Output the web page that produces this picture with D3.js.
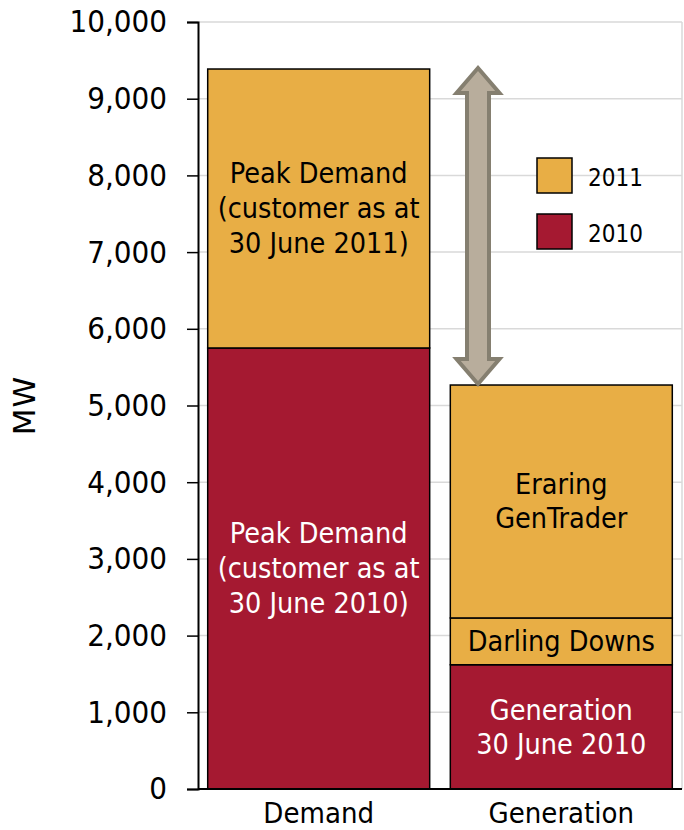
<!DOCTYPE html>
<html><head><meta charset="utf-8">
<script src="https://cdn.jsdelivr.net/npm/d3@7"></script>
<style>body{margin:0;background:#fff}text{font-family:"DejaVu Sans Condensed","DejaVu Sans",sans-serif}</style>
</head><body><svg id="c" width="684" height="830"></svg>
<script>
const categories = ["Demand", "Generation"];
const series2010 = [5750, 1620];
const seriesDarling = [0, 610];
const series2011 = [3637, 3037];
const yTicks = [0,1000,2000,3000,4000,5000,6000,7000,8000,9000,10000];
const legendLabels = ["2011", "2010"];

(function(){
const colors = {y2011:"#e8ae45", y2010:"#a51931"};
const FF = '"DejaVu Sans Condensed","DejaVu Sans",sans-serif';
const svg = d3.select("#c");
const m = {l:198, r:682, t:22, b:789};
const x = d3.scaleBand().domain(categories).range([m.l, m.r]).paddingInner(0.085).paddingOuter(0.04);
const y = d3.scaleLinear().domain([0,10000]).range([m.b, m.t]);

// gridlines
svg.append("g").selectAll("line").data(yTicks.slice(1)).join("line")
  .attr("x1", m.l).attr("x2", m.r).attr("y1", d=>y(d)).attr("y2", d=>y(d))
  .attr("stroke", "#d9d9d9").attr("stroke-width", 1.5);
svg.append("line").attr("x1", m.r).attr("x2", m.r).attr("y1", m.t).attr("y2", m.b).attr("stroke","#d9d9d9").attr("stroke-width",1.5);

// stacks
const segs = [];
categories.forEach((c,i)=>{
  let base = 0;
  segs.push({c, y0:base, y1:base+series2010[i], col:colors.y2010}); base += series2010[i];
  if (seriesDarling[i]) { segs.push({c, y0:base, y1:base+seriesDarling[i], col:colors.y2011}); base += seriesDarling[i]; }
  segs.push({c, y0:base, y1:base+series2011[i], col:colors.y2011});
});
svg.append("g").selectAll("rect").data(segs).join("rect")
  .attr("x", d=>x(d.c)).attr("width", x.bandwidth())
  .attr("y", d=>y(d.y1)).attr("height", d=>y(d.y0)-y(d.y1))
  .attr("fill", d=>d.col).attr("stroke", "#000").attr("stroke-width", 1.5);

// axes
const ya = d3.axisLeft(y).tickValues(yTicks).tickSize(11).tickPadding(20).tickFormat(d3.format(","));
const gy = svg.append("g").attr("transform", `translate(${m.l},0)`).call(ya);
gy.select(".domain").attr("stroke","#000").attr("stroke-width",2);
gy.selectAll(".tick line").attr("stroke","#000").attr("stroke-width",1.5);
gy.selectAll(".tick text").attr("font-size", 31).attr("fill","#000").style("font-family", FF);
const xa = d3.axisBottom(x).tickSize(0).tickPadding(13);
const gx = svg.append("g").attr("transform", `translate(0,${m.b})`).call(xa);
gx.select(".domain").attr("stroke","#000").attr("stroke-width",2).attr("d", `M${m.l},0H${m.r}`);
gx.selectAll(".tick text").attr("font-size", 29).attr("fill","#000").style("font-family", FF);

svg.append("text").attr("transform", `translate(24,${(m.t+m.b)/2}) rotate(-90)`)
  .attr("text-anchor","middle").attr("dy","0.35em").attr("font-size", 31)
  .style("font-family",'"DejaVu Sans",sans-serif').attr("letter-spacing",1).text("MW");

// bar labels
function label(cat, v, lines, col, lh){
  const cx = x(cat) + x.bandwidth()/2;
  const cy = y(v);
  const t = svg.append("text").attr("text-anchor","middle").attr("font-size", 28.5).attr("fill", col);
  lines.forEach((s,k)=>{
    t.append("tspan").attr("x", cx).attr("y", cy + (k-(lines.length-1)/2)*lh).attr("dy","0.35em").text(s);
  });
}
label("Demand", series2010[0] + series2011[0]/2, ["Peak Demand","(customer as at","30 June 2011)"], "#000", 35);
label("Demand", series2010[0]/2, ["Peak Demand","(customer as at","30 June 2010)"], "#fff", 35);
label("Generation", series2010[1]+seriesDarling[1]+series2011[1]/2, ["Eraring","GenTrader"], "#000", 34);
label("Generation", series2010[1]+seriesDarling[1]/2, ["Darling Downs"], "#000", 34);
label("Generation", series2010[1]/2, ["Generation","30 June 2010"], "#fff", 34);

// arrow
const topV = series2010[0]+series2011[0];
const botV = series2010[1]+seriesDarling[1]+series2011[1];
const ax = 478, hw = 11, hh = 21.5, hl = 25;
const yt = y(topV) - 1, yb = y(botV) - 1;
const p = [[ax,yt],[ax+hh,yt+hl],[ax+hw,yt+hl],[ax+hw,yb-hl],[ax+hh,yb-hl],[ax,yb],[ax-hh,yb-hl],[ax-hw,yb-hl],[ax-hw,yt+hl],[ax-hh,yt+hl]];
svg.append("path").attr("d", "M"+p.map(q=>q.join(",")).join("L")+"Z")
  .attr("fill","#b8ad9c").attr("stroke","#857f70").attr("stroke-width",4).attr("stroke-linejoin","miter");

// legend
const lg = svg.append("g");
legendLabels.forEach((s,i)=>{
  const yy = 158 + i*56;
  lg.append("rect").attr("x",537).attr("y",yy).attr("width",35).attr("height",35)
    .attr("fill", i===0?colors.y2011:colors.y2010).attr("stroke","#000").attr("stroke-width",1.5);
  lg.append("text").attr("x",588).attr("y",yy+20).attr("dy","0.35em").attr("font-size",24).text(s);
});
})();
</script></body></html>
